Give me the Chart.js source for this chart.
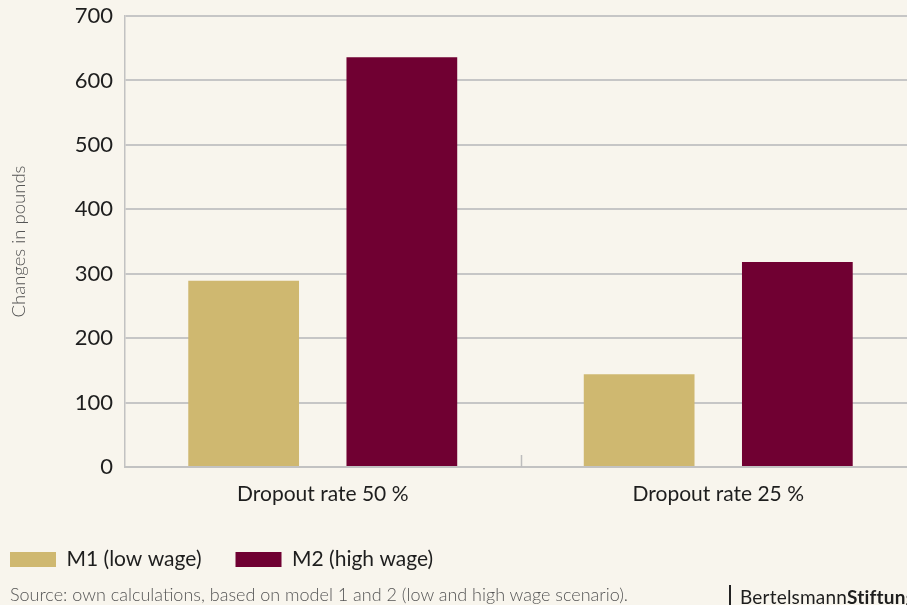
<!DOCTYPE html>
<html>
<head>
<meta charset="utf-8">
<script src="https://cdn.jsdelivr.net/npm/chart.js@4.4.1/dist/chart.umd.min.js"></script>
<style>
  html, body { margin: 0; padding: 0; background: #f8f5ed; width: 907px; height: 605px; overflow: hidden; }
  #wrap { position: relative; width: 907px; height: 605px; overflow: hidden; font-family: Lato, sans-serif; }
  canvas { position: absolute; left: 0; top: 0; }
  #source { position: absolute; left: 10px; top: 583px; font-size: 18px; font-weight: 300; color: #555; white-space: nowrap; line-height: 22px; }
  #logo { position: absolute; left: 729px; top: 585px; height: 20px; border-left: 2px solid #222; padding-left: 9px; font-size: 19px; color: #1e1e1e; white-space: nowrap; letter-spacing: 0.2px; line-height: 24px; }
  #logo b { font-weight: 700; }
</style>
</head>
<body>
<div id="wrap">
  <canvas id="c" width="916" height="605"></canvas>
  <div id="source">Source: own calculations, based on model 1 and 2 (low and high wage scenario).</div>
  <div id="logo">Bertelsmann<b>Stiftung</b></div>
</div>
<script>
const categories = ["Dropout rate 50 %", "Dropout rate 25 %"];
const seriesNames = ["M1 (low wage)", "M2 (high wage)"];
const m1Values = [289, 144];
const m2Values = [636, 318];
const yTicks = [0, 100, 200, 300, 400, 500, 600, 700];
const yTitle = "Changes in pounds";

const colors = ["#cfb870", "#700032"];

const categoryDivider = {
  id: 'categoryDivider',
  afterDatasetsDraw(chart) {
    const xs = chart.scales.x, ys = chart.scales.y, ctx = chart.ctx;
    const y0 = ys.getPixelForValue(0);
    ctx.save();
    ctx.strokeStyle = '#bdbdbd';
    ctx.lineWidth = 1.5;
    for (let i = 0; i < categories.length - 1; i++) {
      const x = Math.round((xs.getPixelForValue(i) + xs.getPixelForValue(i + 1)) / 2) + 0.5;
      ctx.beginPath();
      ctx.moveTo(x, y0);
      ctx.lineTo(x, y0 - 12);
      ctx.stroke();
    }
    ctx.restore();
  }
};

new Chart(document.getElementById('c'), {
  type: 'bar',
  data: {
    labels: categories,
    datasets: [
      { label: seriesNames[0], data: m1Values, backgroundColor: colors[0] },
      { label: seriesNames[1], data: m2Values, backgroundColor: colors[1] }
    ]
  },
  options: {
    responsive: false,
    animation: false,
    devicePixelRatio: 1,
    layout: { padding: { left: -24, top: 16, right: 0, bottom: 25 } },
    datasets: { bar: { categoryPercentage: 0.8, barPercentage: 0.7 } },
    plugins: {
      tooltip: { enabled: false },
      legend: {
        position: 'bottom',
        align: 'start',
        labels: {
          boxWidth: 46,
          boxHeight: 15,
          padding: 34,
          color: '#1e1e1e',
          font: { family: 'Lato', size: 21 }
        }
      }
    },
    scales: {
      x: {
        grid: { display: false, drawTicks: false },
        border: { display: true, color: '#c2c2c2', width: 2 },
        ticks: { color: '#1e1e1e', padding: 15, font: { family: 'Lato', size: 21 } },
        afterFit(scale) { scale.height = 48; }
      },
      y: {
        min: 0, max: 700,
        afterBuildTicks(scale) { scale.ticks = yTicks.map(v => ({ value: v })); },
        grid: { color: '#c6c6c6', lineWidth: 2, drawTicks: false },
        border: { display: true, color: '#c2c2c2', width: 1.5 },
        ticks: { color: '#1e1e1e', padding: 12, font: { family: 'Lato', size: 22 } },
        title: {
          display: true, text: yTitle, color: '#555',
          font: { family: 'Lato', size: 18.5, weight: 300 },
          padding: { top: 32, bottom: 0 }
        },
        afterFit(scale) { scale.width = 149; scale.paddingTop = 0; scale.paddingBottom = 0; }
      }
    }
  },
  plugins: [categoryDivider]
});
</script>
</body>
</html>
